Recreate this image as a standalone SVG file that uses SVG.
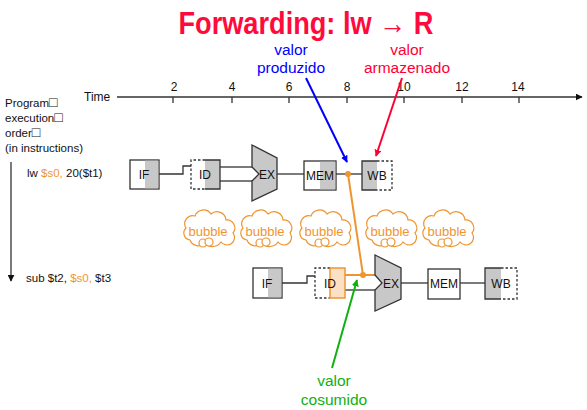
<svg xmlns="http://www.w3.org/2000/svg" width="587" height="410" viewBox="0 0 587 410">
  <style>
    text { font-family: "Liberation Sans", Arial, sans-serif; }
    .lbl { font-size: 11.5px; fill: #111; }
    .sq { font-size: 14px; }
    .tick { font-size: 12px; fill: #111; text-anchor: middle; }
    .stage { font-size: 12px; fill: #111; text-anchor: middle; }
    .box { fill: #fff; stroke: #333; stroke-width: 1.3; }
    .gray { fill: #c8c8c8; stroke: none; }
    .edge { fill: none; stroke: #333; stroke-width: 1.3; }
    .dash { fill: none; stroke: #333; stroke-width: 1.3; stroke-dasharray: 2.5 2; }
    .wire { fill: none; stroke: #333; stroke-width: 1.3; }
    .fwd { fill: none; stroke: #ef9530; stroke-width: 2; }
    .alu { fill: #c8c8c8; stroke: #333; stroke-width: 1.3; }
    .org { fill: #ef9530; }
    .cloud { fill: #fff; stroke: #ef9530; stroke-width: 1.2; }
    .bub { font-size: 13px; fill: #ef9530; text-anchor: middle; }
    .note { font-size: 15.5px; text-anchor: middle; }
  </style>
  <defs>
    <marker id="ahBlue" viewBox="0 0 10 10" refX="9" refY="5" markerWidth="7" markerHeight="7" orient="auto" markerUnits="userSpaceOnUse">
      <path d="M0,0 L10,5 L0,10 z" fill="#0000ff"/>
    </marker>
    <marker id="ahRed" viewBox="0 0 10 10" refX="9" refY="5" markerWidth="7" markerHeight="7" orient="auto" markerUnits="userSpaceOnUse">
      <path d="M0,0 L10,5 L0,10 z" fill="#ff0033"/>
    </marker>
    <marker id="ahGreen" viewBox="0 0 10 10" refX="9" refY="5" markerWidth="7" markerHeight="7" orient="auto" markerUnits="userSpaceOnUse">
      <path d="M0,0 L10,5 L0,10 z" fill="#10b010"/>
    </marker>
    <marker id="ahDark" viewBox="0 0 10 10" refX="9" refY="5" markerWidth="7" markerHeight="7" orient="auto" markerUnits="userSpaceOnUse">
      <path d="M0,0 L10,5 L0,10 z" fill="#111"/>
    </marker>
    <!-- thought-bubble cloud centred on (0,0) -->
    <g id="cloudShape">
      <path class="cloud" d="M-18,10 A7,7 0 0 1 -22,-2 A8,8 0 0 1 -13,-14 A9,9 0 0 1 3,-16 A9,9 0 0 1 18,-10 A8,8 0 0 1 25,3 A7,7 0 0 1 13,12 A10,10 0 0 1 -3,13 A9,9 0 0 1 -18,10 z"/>
      <circle class="cloud" cx="-5" cy="13" r="4"/>
      <circle class="cloud" cx="1" cy="12" r="4"/>
    </g>
  </defs>

  <!-- title -->
  <text x="306" y="34" font-size="31" font-weight="bold" fill="#ff0a3c" text-anchor="middle" textLength="255" lengthAdjust="spacingAndGlyphs">Forwarding: lw → R</text>

  <!-- time axis -->
  <g id="timeAxis">
    <text x="84" y="101" font-size="12" fill="#111">Time</text>
    <line x1="117" y1="97" x2="582" y2="97" stroke="#333" stroke-width="1.5" marker-end="url(#ahDark)"/>
    <g stroke="#333" stroke-width="1.3">
      <line x1="173" y1="97" x2="173" y2="103"/>
      <line x1="232" y1="97" x2="232" y2="103"/>
      <line x1="289" y1="97" x2="289" y2="103"/>
      <line x1="347" y1="97" x2="347" y2="103"/>
      <line x1="404" y1="97" x2="404" y2="103"/>
      <line x1="462" y1="97" x2="462" y2="103"/>
      <line x1="519" y1="97" x2="519" y2="103"/>
    </g>
    <text class="tick" x="174" y="91">2</text>
    <text class="tick" x="232" y="91">4</text>
    <text class="tick" x="289" y="91">6</text>
    <text class="tick" x="347" y="91">8</text>
    <text class="tick" x="404" y="91">10</text>
    <text class="tick" x="462" y="91">12</text>
    <text class="tick" x="518" y="91">14</text>
  </g>

  <!-- program order axis -->
  <g id="orderAxis">
    <text class="lbl" x="5" y="107">Program<tspan class="sq">□</tspan></text>
    <text class="lbl" x="5" y="122">execution<tspan class="sq">□</tspan></text>
    <text class="lbl" x="5" y="137">order<tspan class="sq">□</tspan></text>
    <text class="lbl" x="5" y="152">(in instructions)</text>
    <line x1="11" y1="162" x2="11" y2="281" stroke="#333" stroke-width="1.3" marker-end="url(#ahDark)"/>
  </g>

  <!-- instruction labels -->
  <text class="lbl" x="27" y="177">lw <tspan fill="#ef9530">$s0,</tspan> 20($t1)</text>
  <text class="lbl" x="26" y="282">sub $t2, <tspan fill="#ef9530">$s0,</tspan> $t3</text>

  <!-- connectors -->
  <g id="connectors">
    <!-- lw pipeline wires -->
    <polyline class="wire" points="159,174 183,174 183,166 191,166"/>
    <line class="wire" x1="220" y1="167" x2="252" y2="167"/>
    <line class="wire" x1="220" y1="181" x2="252" y2="181"/>
    <line class="wire" x1="277" y1="174" x2="304" y2="174"/>
    <line class="wire" x1="336" y1="174" x2="362" y2="174"/>
    <!-- sub pipeline wires -->
    <polyline class="wire" points="282,283 307,283 307,276 315,276"/>
    <line class="wire" x1="345" y1="290" x2="375" y2="290"/>
    <line class="wire" x1="401" y1="283" x2="428" y2="283"/>
    <line class="wire" x1="460" y1="283" x2="485" y2="283"/>
    <!-- forwarding path -->
    <line class="fwd" x1="345" y1="275" x2="375" y2="275"/>
    <line class="fwd" x1="348" y1="174" x2="363" y2="275"/>
    <circle class="org" cx="348" cy="174" r="3"/>
    <circle class="org" cx="363" cy="275" r="3"/>
    <!-- annotation arrows -->
    <line x1="306" y1="78" x2="347" y2="162" stroke="#0000ff" stroke-width="2" marker-end="url(#ahBlue)"/>
    <line x1="402" y1="78" x2="376" y2="156" stroke="#ff0033" stroke-width="2" marker-end="url(#ahRed)"/>
    <line x1="332" y1="368" x2="357" y2="280" stroke="#10b010" stroke-width="2" marker-end="url(#ahGreen)"/>
  </g>

  <!-- lw pipeline stages -->
  <g id="lwIF">
    <rect class="box" x="130" y="160" width="29" height="29"/>
    <rect class="gray" x="145" y="160.7" width="13.3" height="27.6"/>
    <text class="stage" x="144" y="179">IF</text>
  </g>
  <g id="lwID">
    <rect x="205" y="160" width="15" height="29" fill="#c8c8c8"/>
    <polyline class="edge" points="205,160 220,160 220,189 205,189"/>
    <polyline class="dash" points="205,160 191,160 191,189 205,189"/>
    <text class="stage" x="205" y="179">ID</text>
  </g>
  <g id="lwEX">
    <polygon class="alu" points="252,145 277,158 277,189 252,201 252,181 259,174 252,167"/>
    <text class="stage" x="267" y="179">EX</text>
  </g>
  <g id="lwMEM">
    <rect class="box" x="304" y="161" width="32" height="29"/>
    <rect class="gray" x="320" y="161.7" width="15.3" height="27.6"/>
    <text class="stage" x="320" y="180">MEM</text>
  </g>
  <g id="lwWB">
    <rect x="362" y="161" width="15" height="29" fill="#c8c8c8"/>
    <polyline class="edge" points="377,161 362,161 362,190 377,190"/>
    <polyline class="dash" points="377,161 392,161 392,190 377,190"/>
    <text class="stage" x="377" y="180">WB</text>
  </g>

  <!-- pipeline bubbles -->
  <g id="bubble1"><use href="#cloudShape" x="208" y="230"/><text class="bub" x="208" y="236">bubble</text></g>
  <g id="bubble2"><use href="#cloudShape" x="265" y="230"/><text class="bub" x="265" y="236">bubble</text></g>
  <g id="bubble3"><use href="#cloudShape" x="324" y="230"/><text class="bub" x="324" y="236">bubble</text></g>
  <g id="bubble4"><use href="#cloudShape" x="390" y="230"/><text class="bub" x="390" y="236">bubble</text></g>
  <g id="bubble5"><use href="#cloudShape" x="447" y="230"/><text class="bub" x="447" y="236">bubble</text></g>

  <!-- sub pipeline stages -->
  <g id="subIF">
    <rect class="box" x="253" y="268" width="29" height="30"/>
    <rect class="gray" x="268" y="268.7" width="13.3" height="28.6"/>
    <text class="stage" x="267" y="288">IF</text>
  </g>
  <g id="subID">
    <rect x="330" y="268" width="15" height="30" fill="#fbe0c5" stroke="none"/>
    <polyline class="dash" points="330,268 315,268 315,298 330,298"/>
    <polyline points="330,268 345,268 345,298 330,298 330,268" fill="none" stroke="#ef9530" stroke-width="1.5"/>
    <text class="stage" x="330" y="288">ID</text>
  </g>
  <g id="subEX">
    <polygon class="alu" points="375,255 401,268 401,299 375,311 375,290 382,283 375,275"/>
    <text class="stage" x="391" y="288">EX</text>
  </g>
  <g id="subMEM">
    <rect class="box" x="428" y="269" width="32" height="30"/>
    <text class="stage" x="444" y="288">MEM</text>
  </g>
  <g id="subWB">
    <rect x="485" y="268" width="16" height="31" fill="#c8c8c8"/>
    <polyline class="edge" points="501,268 485,268 485,299 501,299"/>
    <polyline class="dash" points="501,268 517,268 517,299 501,299"/>
    <text class="stage" x="501" y="288">WB</text>
  </g>

  <!-- annotations -->
  <g id="noteProduced" fill="#0000ff">
    <text class="note" x="291" y="55">valor</text>
    <text class="note" x="291" y="73">produzido</text>
  </g>
  <g id="noteStored" fill="#ff0033">
    <text class="note" x="407" y="55">valor</text>
    <text class="note" x="407" y="73">armazenado</text>
  </g>
  <g id="noteConsumed" fill="#10b010">
    <text class="note" x="334" y="386">valor</text>
    <text class="note" x="334" y="405">cosumido</text>
  </g>
</svg>
